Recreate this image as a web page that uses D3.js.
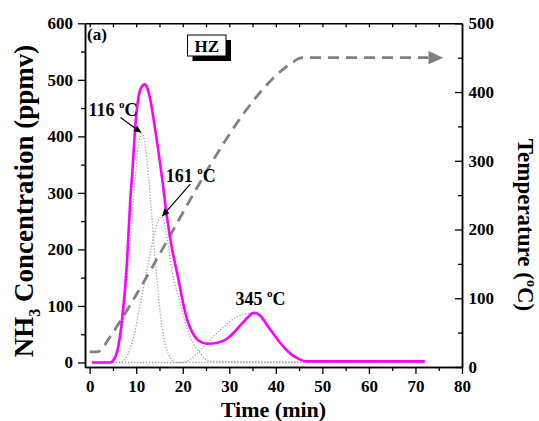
<!DOCTYPE html>
<html>
<head>
<meta charset="utf-8">
<script src="https://cdn.jsdelivr.net/npm/d3@7"></script>
<style>
  html, body { margin: 0; padding: 0; background: #fff; }
  svg text { font-family: "Liberation Serif", "Times New Roman", serif; font-weight: bold; fill: #000; }
</style>
</head>
<body>
<svg id="chart" width="539" height="421"></svg>
<script>
// NH3-TPD profile of HZ: measured signal, fitted desorption peaks and oven temperature

// measured NH3 signal (time in min, concentration in ppmv)
const signalTime = [0.5, 2, 4.4, 5.0, 5.9, 6.95, 8.0, 8.75, 9.2, 9.8, 10.5, 11.2, 11.8, 12.4, 13.0, 14.1, 15.5, 16.6, 17.5, 19.0, 20.0, 21.0, 22.0, 23.5, 25.3, 27.5, 29.5, 31.0, 32.4, 34.0, 35.2, 36.5, 37.8, 39.0, 41.0, 43.1, 45.0, 46.5, 50, 60, 72];
const signalPpm  = [0, 0, 0, 3, 19, 75, 175, 290, 340, 417, 470, 488, 492, 485, 466, 411, 330, 258, 210, 150, 108, 74, 54, 38, 33, 35, 42, 53, 66, 80, 88, 84, 70, 56, 34, 16, 6, 2, 2, 2, 2];

// fitted peak 1 (116 °C)
const peak1Time = [0.5, 5.0, 6.2, 7.3, 8.4, 9.8, 10.5, 11.25, 12.3, 13.0, 14.1, 15.2, 15.9, 17.3, 18.5, 72];
const peak1Ppm  = [0, 0, 25, 80, 180, 325, 385, 405, 360, 295, 180, 85, 45, 9, 0, 0];

// fitted peak 2 (161 °C)
const peak2Time = [0.5, 6.5, 7.7, 9.45, 10.9, 12.3, 13.75, 14.8, 15.5, 16.6, 17.7, 19.5, 21.3, 23.8, 26.0, 72];
const peak2Ppm  = [0, 0, 7, 45, 104, 163, 222, 252, 258, 222, 163, 104, 51, 16, 2, 0];

// fitted peak 3 (345 °C)
const peak3Time = [0.5, 20.0, 23.1, 25.2, 28.8, 31.5, 34.5, 36.3, 38.1, 41.0, 43.0, 45.3, 47.5, 72];
const peak3Ppm  = [0, 0, 16, 34, 63, 80, 87, 82, 66, 34, 14, 5, 0, 0];

// oven temperature ramp (time in min, °C)
const tempTime = [0, 1.5, 2.5, 4, 44, 45, 46, 72.8];
const tempC    = [22, 22, 25, 40, 445, 449, 450, 450];
const tempArrowTip = 76;

// peak labels
const peakLabels = ["116", "161", "345"];

// axis ticks
const xTicks = [0, 10, 20, 30, 40, 50, 60, 70, 80];
const xMinor = [5, 15, 25, 35, 45, 55, 65, 75];
const xTopTicks = [0, 5, 10, 15, 20, 25, 30, 35, 40, 45, 50, 55, 60, 65, 70, 75];
const yTicks = [0, 100, 200, 300, 400, 500, 600];
const yMinor = [50, 150, 250, 350, 450, 550];
const tTicks = [0, 100, 200, 300, 400, 500];
const tMinor = [50, 150, 250, 350, 450];

const svg = d3.select("#chart");
const L = 85, R = 462, T = 23.3, B = 367;

const x = d3.scaleLinear().domain([-1, 80]).range([L, R]);
const y = d3.scaleLinear().domain([-8, 600]).range([B, T]);
const yT = d3.scaleLinear().domain([0, 500]).range([B, T]);

const zip = (a, b) => a.map((v, i) => [v, b[i]]);

// defs: arrowhead for annotations
svg.append("defs").append("marker")
  .attr("id", "ah").attr("viewBox", "0 0 10 10")
  .attr("refX", 10).attr("refY", 5)
  .attr("markerWidth", 9).attr("markerHeight", 7)
  .attr("markerUnits", "userSpaceOnUse")
  .attr("orient", "auto")
  .append("path").attr("d", "M0,0 L10,5 L0,10 z").attr("fill", "#000");

const plot = svg.append("g");

// fitted peaks (dotted)
const lineL = d3.line().x(d => x(d[0])).y(d => y(d[1])).curve(d3.curveMonotoneX);
[[peak1Time, peak1Ppm], [peak2Time, peak2Ppm], [peak3Time, peak3Ppm]].forEach(([tt, vv]) => {
  plot.append("path")
    .attr("d", lineL(zip(tt, vv)))
    .attr("fill", "none")
    .attr("stroke", "#a0a0a0")
    .attr("stroke-width", 1.3)
    .attr("stroke-dasharray", "1.2,1.8");
});

// temperature ramp (dashed, right axis)
const lineT = d3.line().x(d => x(d[0])).y(d => yT(d[1])).curve(d3.curveMonotoneX);
plot.append("path")
  .attr("d", lineT(zip(tempTime, tempC)))
  .attr("fill", "none")
  .attr("stroke", "#808080")
  .attr("stroke-width", 2.8)
  .attr("stroke-dasharray", "11,7");
{
  const bx = x(tempTime[tempTime.length - 1]), tx = x(tempArrowTip), ty = yT(tempC[tempC.length - 1]);
  plot.append("path")
    .attr("d", `M${bx},${ty - 6.7} L${tx},${ty} L${bx},${ty + 6.7} Z`)
    .attr("fill", "#808080");
}

// measured signal
plot.append("path")
  .attr("d", lineL(zip(signalTime, signalPpm)))
  .attr("fill", "none")
  .attr("stroke", "#ff00ff")
  .attr("stroke-width", 2.6)
  .attr("stroke-linejoin", "round");

// axes
function styleAxis(g) {
  g.select(".domain").attr("stroke", "#000").attr("stroke-width", 1.5);
  g.selectAll(".tick line").attr("stroke", "#000").attr("stroke-width", 1.3);
  g.selectAll("text").attr("font-size", 17).attr("fill", "#000");
}
const gB = svg.append("g").attr("transform", `translate(0,${B})`)
  .call(d3.axisBottom(x).tickValues(xTicks).tickSize(7).tickSizeOuter(0).tickPadding(6).tickFormat(d3.format("d")));
styleAxis(gB);
const gBm = svg.append("g").attr("transform", `translate(0,${B})`)
  .call(d3.axisBottom(x).tickValues(xMinor).tickSize(4).tickSizeOuter(0).tickFormat(""));
styleAxis(gBm);

const gTop = svg.append("g").attr("transform", `translate(0,${T})`)
  .call(d3.axisTop(x).tickValues(xTopTicks).tickSize(-4).tickSizeOuter(0).tickFormat(""));
styleAxis(gTop);

const gL = svg.append("g").attr("transform", `translate(${L},0)`)
  .call(d3.axisLeft(y).tickValues(yTicks).tickSize(7).tickSizeOuter(0).tickPadding(5).tickFormat(d3.format("d")));
styleAxis(gL);
const gLm = svg.append("g").attr("transform", `translate(${L},0)`)
  .call(d3.axisLeft(y).tickValues(yMinor).tickSize(4).tickSizeOuter(0).tickFormat(""));
styleAxis(gLm);

const gR = svg.append("g").attr("transform", `translate(${R},0)`)
  .call(d3.axisRight(yT).tickValues(tTicks).tickSize(-7).tickSizeOuter(0).tickPadding(6.5).tickFormat(d3.format("d")));
styleAxis(gR);
const gRm = svg.append("g").attr("transform", `translate(${R},0)`)
  .call(d3.axisRight(yT).tickValues(tMinor).tickSize(-4).tickSizeOuter(0).tickFormat(""));
styleAxis(gRm);

// axis titles
svg.append("text")
  .attr("x", (L + R) / 2).attr("y", 416.5)
  .attr("text-anchor", "middle").attr("font-size", 22)
  .text("Time (min)");

const yl = svg.append("text")
  .attr("transform", `translate(33,201)rotate(-90)`)
  .attr("text-anchor", "middle").attr("font-size", 27);
yl.append("tspan").text("NH");
yl.append("tspan").attr("font-size", 16).attr("dy", 7).text("3");
yl.append("tspan").attr("dy", -7).text(" Concentration (ppmv)");

const yr = svg.append("text")
  .attr("transform", `translate(518,225)rotate(90)`)
  .attr("text-anchor", "middle").attr("font-size", 23);
yr.append("tspan").text("Temperature (");
yr.append("tspan").attr("font-size", 14).attr("dy", -9).text("o");
yr.append("tspan").attr("dy", 9).text("C)");

// panel tag and sample box
svg.append("text").attr("x", 87).attr("y", 39.5).attr("font-size", 17).text("(a)");
{
  const bx = 187.5, by = 35, bw = 38.5, bh = 21;
  svg.append("rect").attr("x", bx + 5).attr("y", by + 5).attr("width", bw).attr("height", bh).attr("fill", "#000");
  svg.append("rect").attr("x", bx).attr("y", by).attr("width", bw).attr("height", bh)
    .attr("fill", "#fff").attr("stroke", "#000").attr("stroke-width", 1);
  svg.append("text").attr("x", bx + bw / 2).attr("y", by + 16.5)
    .attr("text-anchor", "middle").attr("font-size", 17).text("HZ");
}

// peak temperature labels
function degLabel(px, py, anchor, num) {
  const t = svg.append("text").attr("x", px).attr("y", py).attr("text-anchor", anchor).attr("font-size", 18);
  t.append("tspan").text(num + " ");
  t.append("tspan").attr("font-size", 11).attr("dy", -8).text("o");
  t.append("tspan").attr("dy", 8).text("C");
  return t;
}
function arrow(x1, y1, x2, y2) {
  svg.append("line").attr("x1", x1).attr("y1", y1).attr("x2", x2).attr("y2", y2)
    .attr("stroke", "#000").attr("stroke-width", 1.2).attr("marker-end", "url(#ah)");
}
{
  const i1 = peak1Ppm.indexOf(d3.max(peak1Ppm));
  const p1 = [x(peak1Time[i1]), y(peak1Ppm[i1])];
  degLabel(p1[0] - 4.5, p1[1] - 18, "end", peakLabels[0]);
  arrow(p1[0] - 21.5, p1[1] - 16, p1[0] - 1, p1[1] - 1);

  const i2 = peak2Ppm.indexOf(d3.max(peak2Ppm));
  const p2 = [x(peak2Time[i2]), y(peak2Ppm[i2])];
  degLabel(p2[0] + 4, p2[1] - 35, "start", peakLabels[1]);
  arrow(p2[0] + 28.5, p2[1] - 32.5, p2[0] + 0.5, p2[1] - 0.5);

  const i3 = signalPpm.indexOf(d3.max(signalPpm.filter((v, i) => signalTime[i] > 30)));
  const p3 = [x(signalTime[i3]), y(signalPpm[i3])];
  degLabel(p3[0] + 7, p3[1] - 8, "middle", peakLabels[2]);
}
</script>
</body>
</html>
